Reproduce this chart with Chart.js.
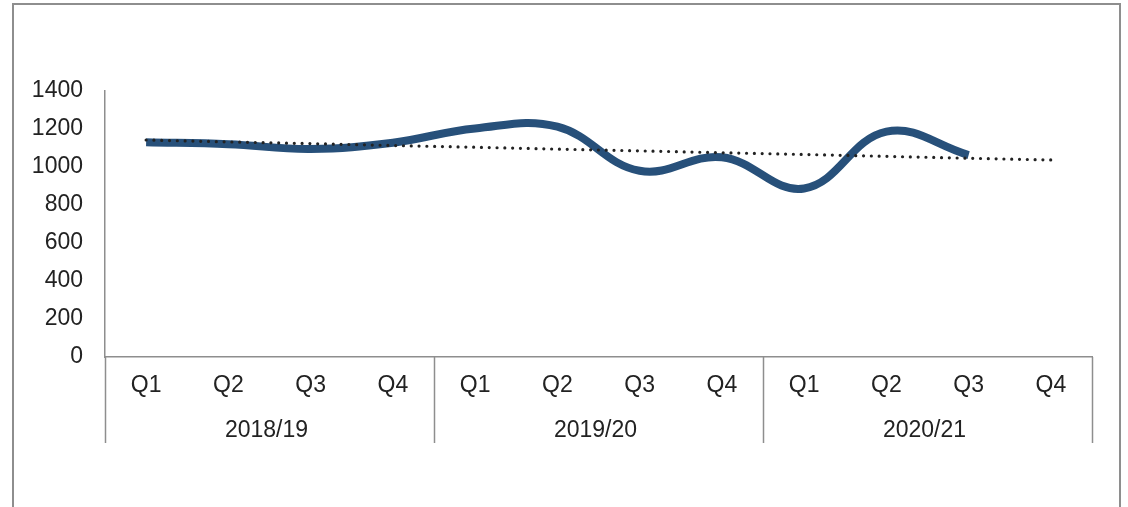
<!DOCTYPE html>
<html>
<head>
<meta charset="utf-8">
<script src="https://cdn.jsdelivr.net/npm/chart.js@4"></script>
<style>
  html, body { margin: 0; padding: 0; background: #fff; overflow: hidden; }
  #wrap { position: relative; width: 1128px; height: 507px; }
  #frame { position: absolute; left: 12px; top: 3px; width: 1105px; height: 520px;
           border: 2px solid #8e8e8e; border-bottom: none; }
  canvas { position: absolute; left: 0; top: 0; }
</style>
</head>
<body>
<div id="wrap">
  <div id="frame"></div>
  <canvas id="chart" width="1128" height="507"></canvas>
</div>
<script>
"use strict";

// quarters and their financial years
const quarters = ["Q1", "Q2", "Q3", "Q4", "Q1", "Q2", "Q3", "Q4", "Q1", "Q2", "Q3", "Q4"];
const years = ["2018/19", "2019/20", "2020/21"];
const yTicks = [0, 200, 400, 600, 800, 1000, 1200, 1400];

// values
const actual = [1130, 1120, 1095, 1128, 1203, 1212, 980, 1051, 887, 1186, 1063, null];
const trend = [1142, 1132, 1123, 1113, 1104, 1094, 1085, 1075, 1066, 1056, 1046, 1037];

const AXIS = "#8e8e8e";
const TEXT = "#222";
const FONT = "'Liberation Sans', Arial, sans-serif";

Chart.defaults.font.family = FONT;
Chart.defaults.font.size = 23;
Chart.defaults.color = TEXT;

// year groups under the quarter labels, with the separators between them
const groupAxis = {
  id: "groupAxis",
  afterDraw(chart) {
    const { ctx, chartArea } = chart;
    const x = chart.scales.x;
    const per = quarters.length / years.length;
    const top = chartArea.bottom;
    const bottom = top + 86;
    const edges = [chartArea.left];
    for (let g = 1; g < years.length; g++) {
      edges.push((x.getPixelForValue(g * per - 1) + x.getPixelForValue(g * per)) / 2);
    }
    edges.push(chartArea.right);

    ctx.save();
    ctx.strokeStyle = AXIS;
    ctx.lineWidth = 1.5;
    edges.forEach((px) => {
      ctx.beginPath();
      ctx.moveTo(Math.round(px) + 0.5, top);
      ctx.lineTo(Math.round(px) + 0.5, bottom);
      ctx.stroke();
    });
    ctx.fillStyle = TEXT;
    ctx.font = "23px " + FONT;
    ctx.textAlign = "center";
    ctx.textBaseline = "middle";
    years.forEach((y, i) => ctx.fillText(y, (edges[i] + edges[i + 1]) / 2 - 3, top + 74));
    ctx.restore();
  },
};

new Chart(document.getElementById("chart"), {
  type: "line",
  data: {
    labels: quarters,
    datasets: [
      { label: "Actual", data: actual, borderColor: "#27507a", borderWidth: 8, tension: 0.4,
        pointRadius: 0, fill: false, borderCapStyle: "butt", spanGaps: false, order: 1 },
      { label: "Trend", data: trend, borderColor: "#222", borderWidth: 3.2, borderDash: [0, 7.8],
        borderCapStyle: "round", tension: 0, pointRadius: 0, fill: false, order: 0 },
    ],
  },
  options: {
    responsive: false,
    animation: false,
    layout: { padding: { top: 91, right: 36, left: 0, bottom: 0 } },
    scales: {
      x: {
        offset: true,
        grid: { display: false },
        border: { display: true, color: AXIS, width: 1.5 },
        ticks: { padding: 7, maxRotation: 0, autoSkip: false },
        afterFit: (s) => { s.height = 150; },
      },
      y: {
        min: 0,
        max: 1400,
        afterBuildTicks: (s) => { s.ticks = yTicks.map((v) => ({ value: v })); },
        grid: { display: false, drawTicks: false },
        border: { display: true, color: AXIS, width: 1.5 },
        ticks: { padding: 22, callback: (v) => String(v) },
        afterFit: (s) => { s.width = 105; },
      },
    },
    plugins: { legend: { display: false }, tooltip: { enabled: false } },
  },
  plugins: [groupAxis],
});
</script>
</body>
</html>
